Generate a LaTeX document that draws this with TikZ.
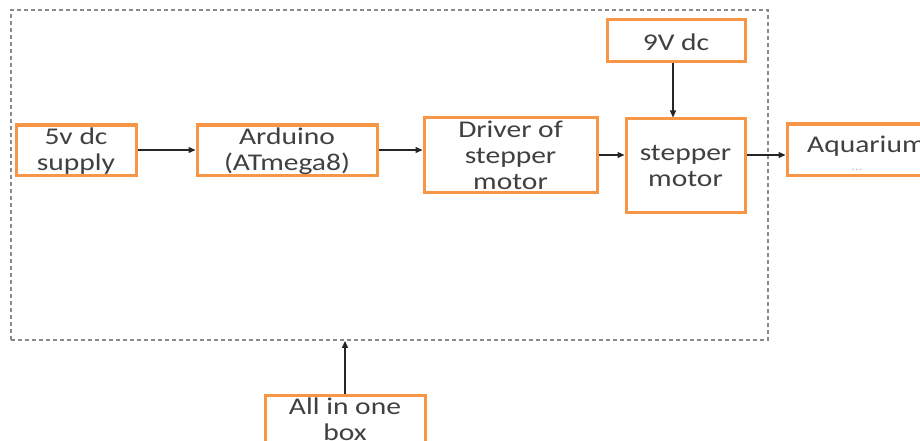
\documentclass[tikz,border=0pt]{standalone}
\usepackage{fontspec}
\setmainfont[FakeStretch=1.23]{Carlito}
\usetikzlibrary{arrows.meta}
\definecolor{boxorange}{HTML}{F79646}
\definecolor{txtgray}{HTML}{404040}
\definecolor{dashgray}{HTML}{8A8A8A}
\tikzset{
  blk/.style={draw=boxorange, line width=3pt, fill=white, inner sep=0pt},
  lbl/.style={text=txtgray, font=\fontsize{24}{26}\selectfont, align=center, inner sep=0pt},
  conn/.style={draw=black!85, line width=1.2pt, -{Triangle[length=7pt,width=6pt]}},
  outerbox/.style={draw=dashgray, line width=1.8pt, dash pattern=on 4pt off 3pt, inner sep=0pt}
}
\begin{document}
\begin{tikzpicture}[x=1pt,y=-1pt]
\useasboundingbox (0,0) rectangle (920,441);
\clip (0,0) rectangle (920,441);
\fill[white] (0,0) rectangle (920,441);
% dashed enclosure
\node[outerbox, minimum width=757pt, minimum height=330pt] (outer) at (389.5,175) {};
% boxes
\node[blk, minimum width=120pt, minimum height=50pt] (v5) at (76,150) {};
\node[blk, minimum width=180pt, minimum height=50pt] (ard) at (287,150) {};
\node[blk, minimum width=173pt, minimum height=74pt] (drv) at (510.5,155) {};
\node[blk, minimum width=138pt, minimum height=42pt] (nine) at (676,41) {};
\node[blk, minimum width=119pt, minimum height=93pt] (stp) at (685.5,165.5) {};
\node[blk, minimum width=160pt, minimum height=51pt] (aq) at (867,149.5) {};
\node[blk, minimum width=160pt, minimum height=52pt] (all) at (345,421) {};
% texts
\node[lbl] (t5) at (76,151) {5v dc\\supply};
\node[lbl] (tard) at (287,151) {Arduino\\(ATmega8)};
\node[lbl] (tdrv) at (510.5,155) {Driver of\\stepper\\motor};
\node[lbl] (tnine) at (676,42) {9V dc};
\node[lbl] (tstp) at (685.5,166) {stepper\\motor};
\node[lbl, anchor=west] (taq) at (807,146) {Aquarium};
\node[text=black!25, font=\fontsize{12}{12}\selectfont, inner sep=0pt] (dots) at (857,170) {...};
\node[lbl] (tall) at (345,419) {All in one\\box};
% connectors
\draw[conn] (v5.east) -- (ard.west);
\draw[conn] (ard.east) -- (ard.east -| drv.west);
\coordinate (dy) at (0,155);
\draw[conn] (dy -| drv.east) -- (dy -| stp.west);
\draw[conn] (dy -| stp.east) -- (dy -| aq.west);
\coordinate (nx) at (673,0);
\draw[conn] (nx |- nine.south) -- (nx |- stp.north);
\draw[conn] (all.north) -- (all.north |- outer.south);
\end{tikzpicture}
\end{document}
